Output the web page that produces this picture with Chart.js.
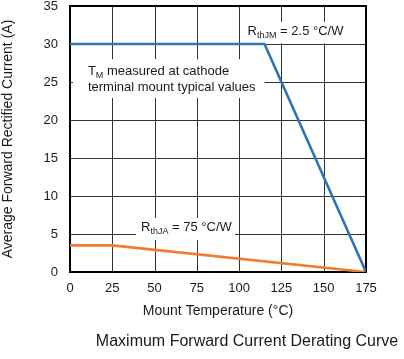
<!DOCTYPE html>
<html>
<head>
<meta charset="utf-8">
<script src="https://cdn.jsdelivr.net/npm/chart.js@4/dist/chart.umd.min.js"></script>
<style>
html,body{margin:0;padding:0;background:#fff;}
#wrap{width:404px;height:359px;}
</style>
</head>
<body>
<div id="wrap"><canvas id="c" width="404" height="359"></canvas></div>
<script>
// Data
const tempJM = [0, 115, 175];
const currentJM = [30, 30, 0];
const tempJA = [0, 25, 175];
const currentJA = [3.5, 3.5, 0];
const xTickStep = 25;
const yTickStep = 5;
const chartTitle = 'Maximum Forward Current Derating Curve';
const xTitle = 'Mount Temperature (°C)';
const yTitle = 'Average Forward Rectified Current (A)';

const FONT = '"Liberation Sans", Arial, Helvetica, sans-serif';

// Annotation boxes (data coordinates)
const notes = [
  {box:[101, 163, 32.9, 30.1], x:105, y:31.6, lines:[[['R',0],['thJM',1],[' = 2.5 °C/W',0]]]},
  {box:[1.8, 115, 28, 22.9], x:10.6, y:26.4, lh:16.3, lines:[[['T',0],['M',1],[' measured at cathode',0]], [['terminal mount typical values',0]]]},
  {box:[39, 97.5, 7.1, 4.2], x:42, y:5.8, lines:[[['R',0],['thJA',1],[' = 75 °C/W',0]]]}
];

const notePlugin = {
  id: 'notes',
  beforeDatasetsDraw(chart) {
    const {ctx, scales:{x, y}, chartArea:a} = chart;
    ctx.save();
    // grid through the library's scales
    ctx.strokeStyle = '#333';
    ctx.lineWidth = 1;
    ctx.beginPath();
    x.ticks.forEach(t => {
      const px = Math.round(x.getPixelForValue(t.value)) + 0.5;
      ctx.moveTo(px, a.top); ctx.lineTo(px, a.bottom);
    });
    y.ticks.forEach(t => {
      const py = Math.round(y.getPixelForValue(t.value)) + 0.5;
      ctx.moveTo(a.left, py); ctx.lineTo(a.right, py);
    });
    ctx.stroke();
    notes.forEach(n => {
      const x0 = x.getPixelForValue(n.box[0]), x1 = x.getPixelForValue(n.box[1]);
      const y0 = y.getPixelForValue(n.box[2]), y1 = y.getPixelForValue(n.box[3]);
      ctx.fillStyle = '#fff';
      ctx.fillRect(x0, y0, x1 - x0, y1 - y0);
      let py = y.getPixelForValue(n.y);
      n.lines.forEach(line => {
        let px = x.getPixelForValue(n.x);
        line.forEach(([t, sub]) => {
          ctx.fillStyle = '#1a1a1a';
          ctx.textBaseline = 'middle';
          ctx.textAlign = 'left';
          ctx.font = (sub ? '9px ' : '13px ') + FONT;
          ctx.fillText(t, px, py + (sub ? 4 : 0));
          px += ctx.measureText(t).width;
        });
        py += (n.lh || 16);
      });
    });
    ctx.strokeStyle = '#000';
    ctx.lineWidth = 2;
    ctx.strokeRect(a.left, a.top, a.right - a.left, a.bottom - a.top);
    ctx.restore();
  },
  afterDraw(chart) {
    const {ctx} = chart;
    ctx.save();
    ctx.fillStyle = '#1a1a1a';
    ctx.font = '16px ' + FONT;
    ctx.textAlign = 'center';
    ctx.textBaseline = 'middle';
    ctx.fillText(chartTitle, 247, 342);
    ctx.restore();
  }
};

const hiddenGrid = {display: true, drawOnChartArea: false, drawTicks: false, color: 'rgba(0,0,0,0)'};

new Chart(document.getElementById('c'), {
  type: 'line',
  data: {
    datasets: [
      {
        label: 'RthJM',
        data: tempJM.map((t, i) => ({x: t, y: currentJM[i]})),
        borderColor: '#2e75b6',
        borderWidth: 2.6,
        pointRadius: 0,
        tension: 0,
        fill: false
      },
      {
        label: 'RthJA',
        data: tempJA.map((t, i) => ({x: t, y: currentJA[i]})),
        borderColor: '#ed7d31',
        borderWidth: 2.6,
        pointRadius: 0,
        tension: 0,
        fill: false
      }
    ]
  },
  options: {
    responsive: false,
    animation: false,
    layout: {padding: {top: 6, right: 38, left: 0, bottom: 0}},
    plugins: {legend: {display: false}, tooltip: {enabled: false}, title: {display: false}},
    scales: {
      x: {
        type: 'linear',
        min: 0, max: 175,
        afterFit(s) { s.height = 87; s.paddingLeft = 0; s.paddingRight = 0; },
        grid: hiddenGrid,
        border: {display: false},
        ticks: {stepSize: xTickStep, padding: 9, color: '#1a1a1a', font: {family: FONT, size: 13}, maxRotation: 0},
        title: {display: true, text: xTitle, color: '#1a1a1a', font: {family: FONT, size: 14}, padding: {top: 0, bottom: 39.6}}
      },
      y: {
        type: 'linear',
        min: 0, max: 35,
        afterFit(s) { s.width = 70; s.paddingTop = 0; s.paddingBottom = 0; },
        grid: hiddenGrid,
        border: {display: false},
        ticks: {stepSize: yTickStep, padding: 12, color: '#1a1a1a', font: {family: FONT, size: 13}},
        title: {display: true, text: yTitle, color: '#1a1a1a', font: {family: FONT, size: 14}, padding: {top: 0, bottom: 0}}
      }
    }
  },
  plugins: [notePlugin]
});
</script>
</body>
</html>
